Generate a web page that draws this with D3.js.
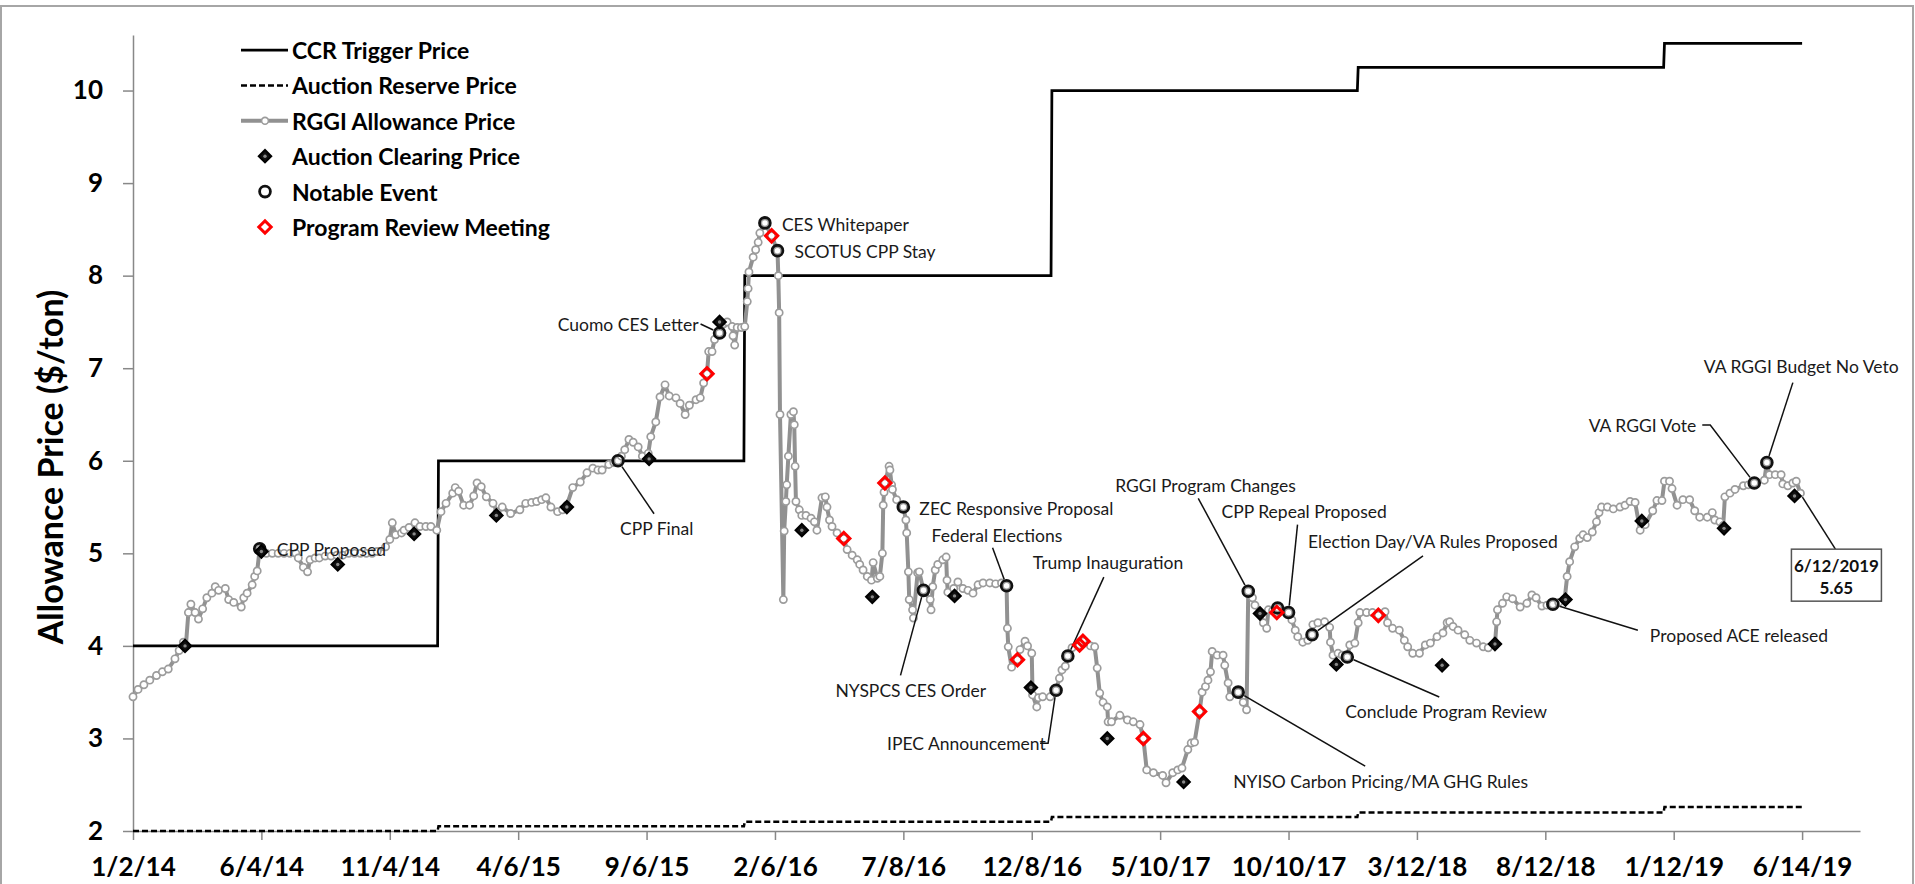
<!DOCTYPE html>
<html>
<head>
<meta charset="utf-8">
<script src="https://cdn.jsdelivr.net/npm/d3@7"></script>
<style>
  body { margin: 0; background: #fff; }
  svg { display: block; font-family: Lato, "Open Sans", sans-serif; }
</style>
</head>
<body>
<svg id="chart" width="1915" height="884"></svg>
<script>
const parseDate = d3.utcParse("%Y-%m-%d");

// Axis ticks
const xTickDates = ["2014-01-02","2014-06-04","2014-11-04","2015-04-06","2015-09-06","2016-02-06","2016-07-08",
  "2016-12-08","2017-05-10","2017-10-10","2018-03-12","2018-08-12","2019-01-12","2019-06-14"];
const yTickValues = [2, 3, 4, 5, 6, 7, 8, 9, 10];

// Yearly program prices
const programYears = [2014, 2015, 2016, 2017, 2018, 2019];
const ccrTrigger = [4.00, 6.00, 8.00, 10.00, 10.25, 10.51];
const reservePrice = [2.00, 2.05, 2.10, 2.15, 2.20, 2.26];
const programEnd = "2019-06-14";

// RGGI secondary market allowance price
const rggiPrice = [
  ["2014-01-02",3.45],["2014-01-08",3.53],["2014-01-15",3.58],["2014-01-22",3.63],["2014-01-30",3.68],
  ["2014-02-06",3.72],["2014-02-13",3.75],["2014-02-21",3.86],["2014-02-26",3.95],["2014-03-03",4.04],
  ["2014-03-06",4.00],["2014-03-09",4.36],["2014-03-12",4.45],["2014-03-17",4.36],["2014-03-21",4.29],
  ["2014-03-26",4.40],["2014-03-31",4.52],["2014-04-06",4.57],["2014-04-10",4.64],["2014-04-14",4.60],
  ["2014-04-22",4.62],["2014-04-26",4.50],["2014-05-02",4.47],["2014-05-11",4.42],["2014-05-14",4.52],
  ["2014-05-18",4.57],["2014-05-24",4.66],["2014-05-27",4.75],["2014-05-30",4.81],["2014-06-02",5.05],
  ["2014-06-04",5.02],["2014-06-10",5.00],["2014-06-17",5.00],["2014-06-24",5.00],["2014-07-01",5.00],
  ["2014-07-08",5.00],["2014-07-15",5.00],["2014-07-18",4.95],["2014-07-24",4.85],["2014-07-29",4.80],
  ["2014-08-01",4.93],["2014-08-07",4.95],["2014-08-12",4.95],["2014-08-19",4.97],["2014-08-26",4.97],
  ["2014-09-02",4.98],["2014-09-09",4.98],["2014-09-16",5.00],["2014-09-23",5.00],["2014-09-30",5.00],
  ["2014-10-07",5.00],["2014-10-14",5.00],["2014-10-20",5.02],["2014-10-30",5.07],["2014-11-04",5.15],
  ["2014-11-07",5.33],["2014-11-11",5.20],["2014-11-18",5.22],["2014-11-21",5.25],["2014-11-27",5.28],
  ["2014-12-04",5.33],["2014-12-10",5.29],["2014-12-17",5.29],["2014-12-23",5.29],["2014-12-30",5.25],
  ["2015-01-04",5.45],["2015-01-10",5.54],["2015-01-18",5.65],["2015-01-21",5.71],["2015-01-25",5.67],
  ["2015-01-31",5.52],["2015-02-07",5.52],["2015-02-12",5.62],["2015-02-16",5.76],["2015-02-21",5.72],
  ["2015-02-27",5.61],["2015-03-07",5.54],["2015-03-12",5.45],["2015-03-18",5.50],["2015-03-28",5.43],
  ["2015-04-08",5.47],["2015-04-15",5.54],["2015-04-22",5.55],["2015-04-28",5.56],["2015-05-04",5.58],
  ["2015-05-09",5.60],["2015-05-15",5.50],["2015-05-23",5.45],["2015-05-29",5.47],["2015-06-03",5.52],
  ["2015-06-10",5.71],["2015-06-19",5.77],["2015-06-27",5.87],["2015-07-04",5.92],["2015-07-10",5.90],
  ["2015-07-15",5.90],["2015-07-23",5.96],["2015-07-29",5.98],["2015-08-03",6.00],["2015-08-07",6.05],
  ["2015-08-11",6.12],["2015-08-16",6.23],["2015-08-21",6.20],["2015-08-27",6.15],["2015-09-01",6.05],
  ["2015-09-08",6.08],["2015-09-11",6.26],["2015-09-17",6.42],["2015-09-22",6.69],["2015-09-28",6.82],
  ["2015-10-03",6.70],["2015-10-11",6.68],["2015-10-16",6.62],["2015-10-22",6.50],["2015-10-27",6.60],
  ["2015-11-04",6.66],["2015-11-09",6.68],["2015-11-13",6.84],["2015-11-17",6.94],["2015-11-19",7.18],
  ["2015-11-23",7.18],["2015-11-26",7.31],["2015-12-02",7.38],["2015-12-07",7.48],["2015-12-11",7.50],
  ["2015-12-17",7.45],["2015-12-18",7.35],["2015-12-20",7.25],["2015-12-23",7.44],["2015-12-28",7.44],
  ["2016-01-01",7.45],["2016-01-04",7.72],["2016-01-05",7.86],["2016-01-06",8.04],["2016-01-11",8.20],
  ["2016-01-14",8.28],["2016-01-17",8.36],["2016-01-19",8.46],["2016-01-25",8.57],["2016-02-02",8.43],
  ["2016-02-09",8.27],["2016-02-10",8.00],["2016-02-11",7.60],["2016-02-12",6.50],["2016-02-16",4.50],
  ["2016-02-17",5.24],["2016-02-19",5.56],["2016-02-20",5.74],["2016-02-22",6.05],["2016-02-25",6.50],
  ["2016-02-28",6.53],["2016-02-29",6.39],["2016-03-01",5.94],["2016-03-02",5.56],["2016-03-06",5.47],
  ["2016-03-09",5.41],["2016-03-14",5.41],["2016-03-20",5.38],["2016-03-24",5.34],["2016-03-27",5.25],
  ["2016-04-02",5.60],["2016-04-06",5.61],["2016-04-08",5.50],["2016-04-11",5.36],["2016-04-14",5.29],
  ["2016-04-20",5.22],["2016-04-28",5.16],["2016-05-02",5.04],["2016-05-08",4.98],["2016-05-14",4.93],
  ["2016-05-17",4.88],["2016-05-21",4.82],["2016-05-26",4.75],["2016-05-31",4.71],["2016-06-02",4.90],
  ["2016-06-07",4.73],["2016-06-10",4.75],["2016-06-13",5.00],["2016-06-14",5.52],["2016-06-15",5.66],
  ["2016-06-16",5.76],["2016-06-21",5.94],["2016-06-22",5.90],["2016-06-24",5.74],["2016-06-25",5.69],
  ["2016-06-30",5.58],["2016-07-05",5.52],["2016-07-08",5.50],["2016-07-11",5.36],["2016-07-12",5.22],
  ["2016-07-14",4.80],["2016-07-15",4.50],["2016-07-19",4.39],["2016-07-20",4.30],["2016-07-25",4.79],
  ["2016-07-27",4.80],["2016-08-01",4.60],["2016-08-09",4.50],["2016-08-10",4.39],["2016-08-12",4.64],
  ["2016-08-15",4.82],["2016-08-18",4.88],["2016-08-24",4.93],["2016-08-28",4.96],["2016-08-29",4.71],
  ["2016-08-30",4.58],["2016-09-06",4.62],["2016-09-11",4.69],["2016-09-17",4.62],["2016-09-23",4.60],
  ["2016-09-29",4.57],["2016-10-05",4.66],["2016-10-11",4.68],["2016-10-19",4.68],["2016-10-26",4.67],
  ["2016-11-02",4.68],["2016-11-08",4.65],["2016-11-09",4.19],["2016-11-10",3.99],["2016-11-14",3.77],
  ["2016-11-21",3.85],["2016-11-24",3.96],["2016-11-30",4.05],["2016-12-03",4.00],["2016-12-08",3.92],
  ["2016-12-09",3.47],["2016-12-14",3.34],["2016-12-16",3.44],["2016-12-21",3.45],["2016-12-30",3.45],
  ["2017-01-06",3.52],["2017-01-10",3.65],["2017-01-13",3.74],["2017-01-17",3.78],["2017-01-20",3.89],
  ["2017-01-25",3.98],["2017-02-03",4.01],["2017-02-07",4.05],["2017-02-16",4.00],["2017-02-21",3.99],
  ["2017-02-24",3.76],["2017-02-27",3.49],["2017-03-03",3.39],["2017-03-08",3.34],["2017-03-09",3.18],
  ["2017-03-13",3.18],["2017-03-23",3.25],["2017-04-01",3.20],["2017-04-08",3.18],["2017-04-16",3.15],
  ["2017-04-20",3.00],["2017-04-24",2.66],["2017-05-02",2.63],["2017-05-13",2.60],["2017-05-17",2.52],
  ["2017-05-25",2.63],["2017-05-31",2.66],["2017-06-05",2.68],["2017-06-12",2.88],["2017-06-16",2.95],
  ["2017-06-20",2.96],["2017-06-26",3.29],["2017-06-29",3.50],["2017-07-03",3.56],["2017-07-06",3.63],
  ["2017-07-09",3.72],["2017-07-11",3.94],["2017-07-17",3.90],["2017-07-24",3.90],["2017-07-26",3.79],
  ["2017-07-30",3.60],["2017-08-01",3.45],["2017-08-11",3.50],["2017-08-17",3.39],["2017-08-21",3.31],
  ["2017-08-23",4.59],["2017-08-28",4.52],["2017-08-31",4.44],["2017-09-06",4.36],["2017-09-10",4.25],
  ["2017-09-14",4.19],["2017-09-16",4.39],["2017-09-21",4.38],["2017-09-26",4.36],["2017-09-27",4.41],
  ["2017-10-04",4.38],["2017-10-10",4.36],["2017-10-14",4.28],["2017-10-18",4.17],["2017-10-21",4.10],
  ["2017-10-27",4.04],["2017-11-02",4.06],["2017-11-07",4.12],["2017-11-08",4.23],["2017-11-14",4.25],
  ["2017-11-22",4.26],["2017-11-28",4.20],["2017-11-29",4.04],["2017-12-02",3.90],["2017-12-08",3.92],
  ["2017-12-13",3.90],["2017-12-19",3.88],["2017-12-22",4.01],["2017-12-28",4.03],
  ["2018-01-01",4.25],["2018-01-03",4.36],["2018-01-11",4.36],["2018-01-18",4.36],["2018-01-25",4.33],
  ["2018-02-02",4.37],["2018-02-05",4.25],["2018-02-11",4.19],["2018-02-19",4.17],["2018-02-25",4.06],
  ["2018-03-01",3.99],["2018-03-07",3.92],["2018-03-15",3.92],["2018-03-22",4.01],["2018-03-28",4.03],
  ["2018-04-05",4.10],["2018-04-12",4.14],["2018-04-17",4.25],["2018-04-20",4.26],["2018-04-24",4.21],
  ["2018-04-30",4.17],["2018-05-08",4.12],["2018-05-14",4.06],["2018-05-22",4.03],["2018-05-30",3.99],
  ["2018-06-05",3.98],["2018-06-13",4.02],["2018-06-15",4.26],["2018-06-16",4.39],["2018-06-22",4.46],
  ["2018-06-27",4.53],["2018-07-04",4.51],["2018-07-13",4.42],["2018-07-21",4.46],["2018-07-27",4.55],
  ["2018-08-01",4.52],["2018-08-08",4.43],["2018-08-14",4.44],["2018-08-21",4.45],["2018-08-28",4.47],
  ["2018-09-04",4.50],["2018-09-07",4.75],["2018-09-10",4.91],["2018-09-16",5.07],["2018-09-22",5.16],
  ["2018-09-26",5.20],["2018-10-01",5.17],["2018-10-07",5.23],["2018-10-12",5.34],["2018-10-15",5.44],
  ["2018-10-18",5.50],["2018-10-25",5.50],["2018-11-01",5.48],["2018-11-09",5.50],["2018-11-15",5.52],
  ["2018-11-21",5.56],["2018-11-27",5.55],["2018-12-03",5.25],["2018-12-09",5.31],["2018-12-18",5.46],
  ["2018-12-23",5.57],["2018-12-29",5.57],
  ["2019-01-01",5.78],["2019-01-07",5.78],["2019-01-10",5.70],["2019-01-16",5.52],["2019-01-23",5.58],
  ["2019-01-31",5.58],["2019-02-06",5.46],["2019-02-12",5.39],["2019-02-21",5.39],["2019-02-27",5.44],
  ["2019-03-02",5.36],["2019-03-08",5.34],["2019-03-12",5.30],["2019-03-14",5.61],["2019-03-20",5.65],
  ["2019-03-26",5.69],["2019-04-05",5.73],["2019-04-11",5.74],["2019-04-18",5.76],["2019-04-30",5.79],
  ["2019-05-03",5.98],["2019-05-06",5.85],["2019-05-13",5.85],["2019-05-20",5.85],["2019-05-22",5.75],
  ["2019-05-28",5.73],["2019-06-03",5.76],["2019-06-07",5.78],["2019-06-12",5.65]
];

// Quarterly auction clearing prices
const auctionClearing = [
  ["2014-03-05",4.00],["2014-06-04",5.02],["2014-09-03",4.88],["2014-12-03",5.21],["2015-03-11",5.41],
  ["2015-06-03",5.50],["2015-09-09",6.02],["2015-12-02",7.50],["2016-03-09",5.25],["2016-06-01",4.53],
  ["2016-09-07",4.54],["2016-12-07",3.55],["2017-03-08",3.00],["2017-06-07",2.53],["2017-09-06",4.35],
  ["2017-12-06",3.80],["2018-04-11",3.79],["2018-06-13",4.02],["2018-09-05",4.50],["2018-12-05",5.35],
  ["2019-03-13",5.27],["2019-06-05",5.62]
];

// Program review meetings
const programReview = [
  ["2015-11-17",6.94],["2016-02-02",8.43],["2016-04-28",5.16],["2016-06-16",5.76],["2016-11-21",3.85],
  ["2017-02-03",4.01],["2017-02-07",4.05],["2017-04-20",3.00],["2017-06-26",3.29],["2017-09-26",4.36],
  ["2018-01-25",4.33]
];

// Notable events
const notableEvents = [
  ["2014-06-02",5.05,"CPP Proposed"],
  ["2015-08-03",6.00,"CPP Final"],
  ["2015-12-02",7.38,"Cuomo CES Letter"],
  ["2016-01-25",8.57,"CES Whitepaper"],
  ["2016-02-09",8.27,"SCOTUS CPP Stay"],
  ["2016-07-08",5.50,"ZEC Responsive Proposal"],
  ["2016-08-01",4.60,"NYSPCS CES Order"],
  ["2016-11-08",4.65,"Federal Elections"],
  ["2017-01-06",3.52,"IPEC Announcement"],
  ["2017-01-20",3.89,"Trump Inauguration"],
  ["2017-08-11",3.50,"NYISO Carbon Pricing/MA GHG Rules"],
  ["2017-08-23",4.59,"RGGI Program Changes"],
  ["2017-09-27",4.41,""],
  ["2017-10-10",4.36,"CPP Repeal Proposed"],
  ["2017-11-07",4.12,"Election Day/VA Rules Proposed"],
  ["2017-12-19",3.88,"Conclude Program Review"],
  ["2018-08-21",4.45,"Proposed ACE released"],
  ["2019-04-18",5.76,"VA RGGI Vote"],
  ["2019-05-03",5.98,"VA RGGI Budget No Veto"]
];

const lastPrice = ["2019-06-12", 5.65];

const legendItems = ["CCR Trigger Price","Auction Reserve Price","RGGI Allowance Price",
  "Auction Clearing Price","Notable Event","Program Review Meeting"];

// Label placement relative to each event marker (pixels)
const labelLayout = {
  "CPP Proposed": {dx: 17, dy: 1},
  "CPP Final": {dx: 2, dy: 68, leader: [[36, 53]]},
  "Cuomo CES Letter": {dx: -21, dy: -9, anchor: "end", leader: [[-19, -9]]},
  "CES Whitepaper": {dx: 17, dy: 2},
  "SCOTUS CPP Stay": {dx: 17, dy: 1},
  "ZEC Responsive Proposal": {dx: 16, dy: 1},
  "NYSPCS CES Order": {dx: -88, dy: 100, leader: [[-23, 85]]},
  "Federal Elections": {dx: -75, dy: -50, leader: [[-14, -38]]},
  "IPEC Announcement": {dx: -169, dy: 53, leader: [[-8, 53], [-16, 53]]},
  "Trump Inauguration": {dx: -35, dy: -94, leader: [[36, -79]]},
  "NYISO Carbon Pricing/MA GHG Rules": {dx: -5, dy: 89, leader: [[127, 74]]},
  "RGGI Program Changes": {dx: -133, dy: -106, leader: [[-50, -93]]},
  "CPP Repeal Proposed": {dx: -67, dy: -101, leader: [[9, -88]]},
  "Election Day/VA Rules Proposed": {dx: -4, dy: -93, leader: [[111, -79]]},
  "Conclude Program Review": {dx: -2, dy: 55, leader: [[92, 40]]},
  "Proposed ACE released": {dx: 97, dy: 31, leader: [[85, 26]]},
  "VA RGGI Vote": {dx: -58, dy: -57, anchor: "end", leader: [[-44, -58], [-52, -58]]},
  "VA RGGI Budget No Veto": {dx: -63, dy: -96, leader: [[26, -80]]}
};

// ---- Setup
const svg = d3.select("#chart");
const lineGray = "#919191";

const x = d3.scaleUtc()
  .domain([parseDate("2014-01-02"), parseDate("2019-08-22")])
  .range([133, 1860]);
const y = d3.scaleLinear()
  .domain([2, 10.6])
  .range([831, 35]);

// figure frame
svg.append("rect")
  .attr("x", 1).attr("y", 6).attr("width", 1912).attr("height", 900)
  .attr("fill", "none").attr("stroke", "#a6a6a6").attr("stroke-width", 2);

// axes
const yAxis = d3.axisLeft(y)
  .tickValues(yTickValues)
  .tickSize(10)
  .tickSizeOuter(0)
  .tickPadding(20)
  .tickFormat(d3.format("d"));

const xAxis = d3.axisBottom(x)
  .tickValues(xTickDates.map(parseDate))
  .tickSize(9)
  .tickSizeOuter(0)
  .tickPadding(18)
  .tickFormat(d3.utcFormat("%-m/%-d/%y"));

const yG = svg.append("g").attr("transform", "translate(133,0)").call(yAxis);
const xG = svg.append("g").attr("transform", "translate(0,831)").call(xAxis);
[yG, xG].forEach(g => {
  g.select(".domain").attr("stroke", "#888").attr("stroke-width", 1.5);
  g.selectAll(".tick line").attr("stroke", "#888").attr("stroke-width", 1.5);
  g.selectAll(".tick text")
    .attr("fill", "#000")
    .style("font-family", "Lato, sans-serif")
    .style("font-size", "26px")
    .style("font-weight", "bold");
});

svg.append("text")
  .attr("transform", "translate(49,467) rotate(-90)")
  .attr("text-anchor", "middle")
  .attr("dominant-baseline", "central")
  .style("font-size", "34px")
  .style("font-weight", "bold")
  .text("Allowance Price ($/ton)");

// yearly step lines
function stepTable(values) {
  const pts = [];
  programYears.forEach((yr, i) => {
    const start = i === 0 ? parseDate(xTickDates[0]) : new Date(Date.UTC(yr, 0, 1));
    const end = i === programYears.length - 1 ? parseDate(programEnd) : new Date(Date.UTC(yr, 11, 31));
    pts.push([start, values[i]], [end, values[i]]);
  });
  return pts;
}

const line = d3.line().x(d => x(d[0])).y(d => y(d[1]));

svg.append("path")
  .attr("d", line(stepTable(reservePrice)))
  .attr("fill", "none").attr("stroke", "#000")
  .attr("stroke-width", 2.5).attr("stroke-dasharray", "6,3");

svg.append("path")
  .attr("d", line(stepTable(ccrTrigger)))
  .attr("fill", "none").attr("stroke", "#000").attr("stroke-width", 2.75);

// allowance price series
const priceData = rggiPrice.map(d => [parseDate(d[0]), d[1]]);
svg.append("path")
  .attr("d", line(priceData))
  .attr("fill", "none").attr("stroke", lineGray)
  .attr("stroke-width", 4).attr("stroke-linejoin", "round");

svg.append("g").selectAll("circle")
  .data(priceData)
  .enter().append("circle")
  .attr("cx", d => x(d[0])).attr("cy", d => y(d[1]))
  .attr("r", 3.6)
  .attr("fill", "#fff").attr("stroke", "#9c9c9c").attr("stroke-width", 1.7);

// annotation leaders
const leaderG = svg.append("g").attr("stroke", "#111").attr("stroke-width", 1.5).attr("fill", "none");
const labelG = svg.append("g")
  .style("font-size", "17.5px").attr("fill", "#1a1a1a");

notableEvents.forEach(ev => {
  const ax = x(parseDate(ev[0])), ay = y(ev[1]);
  const lay = labelLayout[ev[2]];
  if (!lay) return;
  if (lay.leader) {
    const first = lay.leader[0];
    const len = Math.hypot(first[0], first[1]);
    const pts = [[ax + first[0] / len * 7, ay + first[1] / len * 7]]
      .concat(lay.leader.map(p => [ax + p[0], ay + p[1]]));
    leaderG.append("path").attr("d", d3.line()(pts));
  }
  labelG.append("text")
    .attr("x", ax + lay.dx).attr("y", ay + lay.dy)
    .attr("text-anchor", lay.anchor || "start")
    .attr("dominant-baseline", "central")
    .text(ev[2]);
});

// last price call-out
const lx = x(parseDate(lastPrice[0])), ly = y(lastPrice[1]);
leaderG.append("path").attr("d", d3.line()([[lx + 2, ly + 4], [lx + 35, ly + 56]]));
const box = svg.append("g").attr("transform", `translate(${lx + 36},${ly + 82})`);
box.append("rect")
  .attr("x", -45).attr("y", -26).attr("width", 90).attr("height", 52)
  .attr("fill", "#fff").attr("stroke", "#555").attr("stroke-width", 1.5);
box.selectAll("text")
  .data([d3.utcFormat("%-m/%-d/%Y")(parseDate(lastPrice[0])), d3.format(".2f")(lastPrice[1])])
  .enter().append("text")
  .attr("x", 0).attr("y", (d, i) => i === 0 ? -10 : 12)
  .attr("text-anchor", "middle").attr("dominant-baseline", "central")
  .style("font-size", "17px").style("font-weight", "bold").attr("fill", "#111")
  .text(d => d);

// markers
const diamond = d3.symbol().type(d3.symbolSquare);

function auctionMarker(g) {
  g.append("path").attr("d", diamond.size(78)()).attr("transform", "rotate(45)")
    .attr("fill", "#111").attr("stroke", "#000").attr("stroke-width", 2);
  g.append("circle").attr("r", 1.7).attr("fill", "#8a8a8a");
}
function reviewMarker(g) {
  g.append("path").attr("d", diamond.size(76)()).attr("transform", "rotate(45)")
    .attr("fill", "none").attr("stroke", "#ff0000").attr("stroke-width", 3);
}
function eventMarker(g, fill) {
  g.append("circle").attr("r", 5.4)
    .attr("fill", fill).attr("stroke", "#111").attr("stroke-width", 2.8);
}

notableEvents.forEach(ev => {
  eventMarker(svg.append("g").attr("transform", `translate(${x(parseDate(ev[0]))},${y(ev[1])})`), "none");
});
auctionClearing.forEach(d => {
  auctionMarker(svg.append("g").attr("transform", `translate(${x(parseDate(d[0]))},${y(d[1])})`));
});
programReview.forEach(d => {
  reviewMarker(svg.append("g").attr("transform", `translate(${x(parseDate(d[0]))},${y(d[1])})`));
});

// legend
const legend = svg.append("g").attr("transform", "translate(241,50)");
legendItems.forEach((name, i) => {
  const row = legend.append("g").attr("transform", `translate(0,${i * 35.4})`);
  if (i === 0) {
    row.append("line").attr("x1", 0).attr("x2", 47).attr("stroke", "#000").attr("stroke-width", 2.75);
  } else if (i === 1) {
    row.append("line").attr("x1", 0).attr("x2", 47).attr("stroke", "#000")
      .attr("stroke-width", 2.5).attr("stroke-dasharray", "6,3");
  } else if (i === 2) {
    row.append("line").attr("x1", 0).attr("x2", 47).attr("stroke", lineGray).attr("stroke-width", 4);
    row.append("circle").attr("cx", 24).attr("r", 3.4)
      .attr("fill", "#fff").attr("stroke", "#9c9c9c").attr("stroke-width", 1.6);
  } else {
    const m = row.append("g").attr("transform", "translate(24,0)");
    if (i === 3) auctionMarker(m);
    if (i === 4) eventMarker(m, "#fff");
    if (i === 5) reviewMarker(m);
  }
  row.append("text")
    .attr("x", 51).attr("y", 0)
    .attr("dominant-baseline", "central")
    .style("font-size", "23px").style("font-weight", "bold").attr("fill", "#000")
    .text(name);
});
</script>
</body>
</html>
